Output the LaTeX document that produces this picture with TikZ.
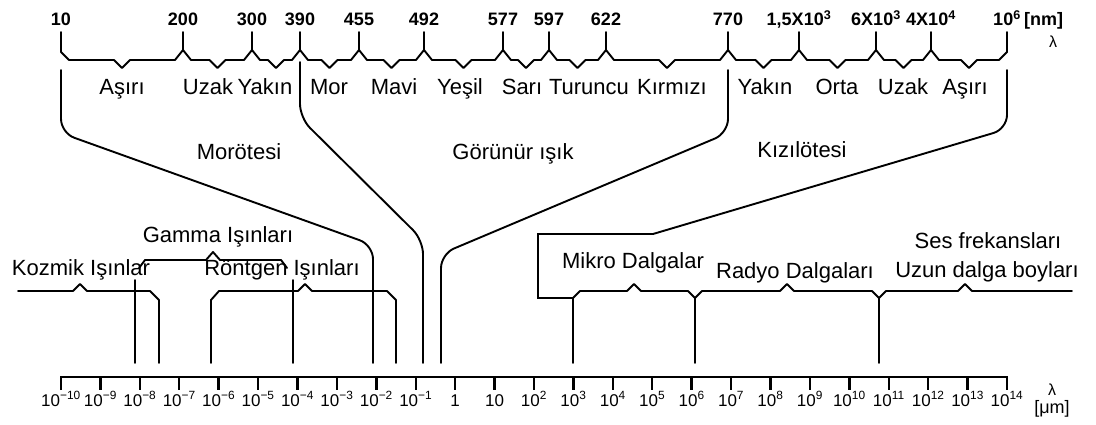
\documentclass[tikz,border=0pt]{standalone}
\usepackage{fontspec}
\setmainfont{Liberation Sans}
\newcommand\pw[1]{10\textsuperscript{#1}}
\begin{document}
\begin{tikzpicture}[x=1pt,y=-1pt,
  ln/.style={line width=1.9pt, line join=round, line cap=round},
  rl/.style={ln, rounded corners=14pt},
  bkt/.style={line width=2.8pt, line join=miter},
  axisline/.style={line width=2.4pt, line join=miter},
  lab/.style={font=\fontsize{22}{24}\selectfont, inner sep=0pt, anchor=base},
  topnum/.style={font=\fontsize{18}{20}\selectfont\bfseries, inner sep=0pt, anchor=base},
  botnum/.style={font=\fontsize{17}{19}\selectfont, inner sep=0pt, anchor=base},
  lam/.style={font=\fontsize{16}{18}\selectfont, inner sep=0pt, anchor=base}
]
\useasboundingbox (0,0) rectangle (1096,425);

% ---------- top scale (nm) ----------
\foreach \a/\b in {61/183,183/252,252/300,300/359,359/424,424/503,503/549,549/606,606/728,728/799,799/876,876/931,931/1007}{
  \pgfmathsetmacro\m{(\a+\b)/2}
  \draw[ln] (\a+8,60) -- (\m-8,60) -- (\m,68) -- (\m+8,60) -- (\b-8,60);
}
\foreach \x in {183,252,300,359,424,503,549,606,728,799,876,931}{
  \draw[ln] (\x,32) -- (\x,50) (\x-8,60) -- (\x,50) -- (\x+8,60);
}
\draw[ln] (61,32) -- (61,52) -- (69,60);
\draw[ln] (1007,32) -- (1007,52) -- (999,60);

\foreach \x/\t/\n in {61/10/t1,183/200/t2,252/300/t3,300/390/t4,359/455/t5,424/492/t6,503/577/t7,549/597/t8,606/622/t9,728/770/t10,799/{1,5X\pw{3}}/t11,876/{6X\pw{3}}/t12,931/{4X\pw{4}}/t13,1007/{\pw{6}}/t14}{
  \node[topnum] (\n) at (\x,26) {\t};
}
\node[topnum, anchor=base west] (nm) at (1024,26) {[nm]};
\node[lam] (lamtop) at (1053,48) {λ};

% band names
\foreach \x/\t/\n in {122/Aşırı/b1,208/Uzak/b2,265/Yakın/b3,329/Mor/b4,394/Mavi/b5,460/Yeşil/b6,522/Sarı/b7,589/Turuncu/b8,672/Kırmızı/b9,765/Yakın/b10,837/Orta/b11,903/Uzak/b12,965/Aşırı/b13}{
  \node[lab] (\n) at (\x,95) {\t};
}

% ---------- connecting lines ----------
\draw[rl] (61,70) -- (61,133) -- (373,245) -- (373,363);
\draw[rl] (300,62) -- (300,118) -- (423,240) -- (423,363);
\draw[rl] (728,70) -- (728,133) -- (441,254) -- (441,363);
\draw[rl] (1007,70) -- (1007,129) -- (653,234);
\draw[bkt] (653,234) -- (538,234) -- (538,298) -- (573,298);

\node[lab] (uv) at (239,160) {Morötesi};
\node[lab] (vis) at (513,160) {Görünür ışık};
\node[lab] (ir) at (802,158) {Kızılötesi};

% ---------- lower braces ----------
\draw[ln] (18,291) -- (73,291) -- (80,284) -- (87,291) -- (150,291) -- (159,300) -- (159,363);
\draw[ln] (139,268) -- (145,260) -- (206,260) -- (213,252) -- (220,260) -- (281,260) -- (287,268);
\draw[ln] (135,280) -- (135,363);
\draw[ln] (293,280) -- (293,363);
\draw[ln] (211,363) -- (211,300) -- (219,291) -- (298,291) -- (305,284) -- (312,291) -- (387,291) -- (396,300) -- (396,363);
\draw[ln] (573,363) -- (573,298) -- (580,291) -- (627,291) -- (634,284) -- (641,291) -- (688,291) -- (695,298) -- (702,291) -- (780,291) -- (787,284) -- (794,291) -- (872,291) -- (879,298) -- (886,291) -- (958,291) -- (965,284) -- (972,291) -- (1072,291);
\draw[ln] (695,298) -- (695,363);
\draw[ln] (879,298) -- (879,363);

\node[lab] (gamma) at (218,243) {Gamma Işınları};
\node[lab] (cosmic) at (81,275) {Kozmik Işınlar};
\node[lab] (xray) at (282,275) {Röntgen Işınları};
\node[lab] (micro) at (633,268) {Mikro Dalgalar};
\node[lab] (radio) at (795,278) {Radyo Dalgaları};
\node[lab] (audio) at (988,248) {Ses frekansları};
\node[lab] (long) at (987,277) {Uzun dalga boyları};

% ---------- bottom axis (um) ----------
\draw[axisline] (61,390) -- (61,377) -- (1007,377) -- (1007,390);
\foreach \i in {1,...,23}{
  \draw[axisline] (61+\i*39.4167,377) -- (61+\i*39.4167,390);
}
\foreach \i/\t in {0/{\pw{−10}},1/{\pw{−9}},2/{\pw{−8}},3/{\pw{−7}},4/{\pw{−6}},5/{\pw{−5}},6/{\pw{−4}},7/{\pw{−3}},8/{\pw{−2}},9/{\pw{−1}},10/1,11/10,12/{\pw{2}},13/{\pw{3}},14/{\pw{4}},15/{\pw{5}},16/{\pw{6}},17/{\pw{7}},18/{\pw{8}},19/{\pw{9}},20/{\pw{10}},21/{\pw{11}},22/{\pw{12}},23/{\pw{13}},24/{\pw{14}}}{
  \node[botnum] (u\i) at (61+\i*39.4167,406) {\t};
}
\node[lam] (lambot) at (1052,395) {λ};
\node[lam, font=\fontsize{18}{20}\selectfont] (um) at (1052,413) {[μm]};
\end{tikzpicture}
\end{document}
